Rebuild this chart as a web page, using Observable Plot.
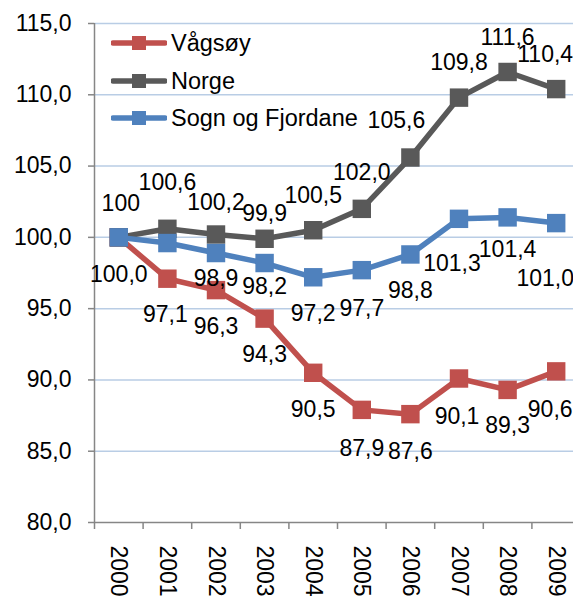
<!DOCTYPE html>
<html>
<head>
<meta charset="utf-8">
<script src="https://cdn.jsdelivr.net/npm/d3@7"></script>
<script src="https://cdn.jsdelivr.net/npm/@observablehq/plot@0.6"></script>
<style>
  html, body { margin: 0; padding: 0; background: white; }
  #wrap { position: relative; width: 573px; height: 599px; overflow: hidden; font-family: "Liberation Sans", Arial, sans-serif; }
  .leg { position: absolute; display: flex; align-items: center; height: 30px; font-size: 23.5px; color: #000; white-space: nowrap; }
  .leg svg { margin-right: 4px; }
</style>
</head>
<body>
<div id="wrap"></div>
<script>
// ---- data ----
const years = [2000, 2001, 2002, 2003, 2004, 2005, 2006, 2007, 2008, 2009];
const seriesNames = ["Vågsøy", "Norge", "Sogn og Fjordane"];
const seriesColors = ["#C0504D", "#595959", "#4F81BD"];
const vagsoy = [100.0, 97.1, 96.3, 94.3, 90.5, 87.9, 87.6, 90.1, 89.3, 90.6];
const norge  = [100.0, 100.6, 100.2, 99.9, 100.5, 102.0, 105.6, 109.8, 111.6, 110.4];
const sogn   = [100.0, 99.6, 98.9, 98.2, 97.2, 97.7, 98.8, 101.3, 101.4, 101.0];
const vagsoyLabels = [null, "97,1", "96,3", "94,3", "90,5", "87,9", "87,6", "90,1", "89,3", "90,6"];
const norgeLabels  = ["100", "100,6", "100,2", "99,9", "100,5", "102,0", "105,6", "109,8", "111,6", "110,4"];
const sognLabels   = ["100,0", null, "98,9", "98,2", "97,2", "97,7", "98,8", "101,3", "101,4", "101,0"];
const yTicks = [80, 85, 90, 95, 100, 105, 110, 115];

// ---- label placement offsets (pixels, annotation layout only) ----
const vagsoyLabelDx = [0, -2, 0, 0, 0, 0, 0, -2, 0, -6];
const vagsoyLabelDy = [37, 36, 37, 36, 37, 39, 37, 38, 36, 38];
const norgeLabelDx  = [2, 0, 0, 0, 0, 0, -14, 0, 0, -11];
const norgeLabelDy  = [-34, -46, -32, -25, -35, -36, -37, -35, -34, -34];
const sognLabelDx   = [0, 0, 0, 0, 0, 0, 0, -7, 0, -11];
const sognLabelDy   = [37, 37, 26, 24, 36, 38, 36, 45, 32, 56];

// ---- build table ----
const allValues = [vagsoy, norge, sogn];
const allLabels = [vagsoyLabels, norgeLabels, sognLabels];
const allDx = [vagsoyLabelDx, norgeLabelDx, sognLabelDx];
const allDy = [vagsoyLabelDy, norgeLabelDy, sognLabelDy];
const rows = [];
seriesNames.forEach((name, s) => {
  years.forEach((yr, i) => rows.push({series: name, year: yr, value: allValues[s][i], label: allLabels[s][i], dx: allDx[s][i], dy: allDy[s][i]}));
});
const fmt = d => d.toFixed(1).replace(".", ",");
const boundaries = years.map(y => y - 0.5).concat([years[years.length - 1] + 0.5]);
const lastYear = years[years.length - 1];

const seriesMarks = [];
seriesNames.forEach((name, s) => {
  const d = rows.filter(r => r.series === name);
  seriesMarks.push(Plot.line(d, {x: "year", y: "value", stroke: seriesColors[s], strokeWidth: 5.5}));
  seriesMarks.push(Plot.dot(d, {x: "year", y: "value", symbol: "square", r: 10.4, fill: seriesColors[s], stroke: "none"}));
});

const labelMarks = rows.filter(r => r.label).map(r =>
  Plot.text([r], {x: "year", y: "value", text: "label", dx: r.dx, dy: r.dy, fill: "#000", fontSize: 23})
);

const chart = Plot.plot({
  width: 573,
  height: 599,
  marginTop: 23,
  marginBottom: 77,
  marginLeft: 94,
  marginRight: 0,
  x: {type: "linear", domain: [years[0] - 0.5, lastYear + 0.5], range: [94, 580]},
  y: {domain: [80, 115]},
  style: {fontFamily: "'Liberation Sans', Arial, sans-serif", fontSize: "23px", background: "white", color: "#000"},
  marks: [
    Plot.ruleY(yTicks.filter(v => v > 80), {stroke: "#B9CDE5", strokeWidth: 1.5}),
    Plot.axisY({ticks: yTicks, tickSize: 6, tickPadding: 17, tickFormat: fmt, stroke: "#868686", strokeWidth: 1.5, fontSize: 23, label: null}),
    Plot.axisX({ticks: years, tickSize: 0, tickPadding: 23, tickRotate: 90, tickFormat: d => String(d), fontSize: 23, label: null}),
    Plot.axisX({ticks: boundaries, tickSize: 7, tickFormat: () => "", stroke: "#868686", strokeWidth: 1.5, label: null}),
    Plot.ruleX([years[0] - 0.5], {stroke: "#868686", strokeWidth: 1.5}),
    Plot.ruleY([80], {stroke: "#868686", strokeWidth: 1.5}),
    ...seriesMarks,
    ...labelMarks
  ]
});

const wrap = document.getElementById("wrap");
wrap.appendChild(chart);

// ---- legend (HTML overlay, top-left inside plot area) ----
const legendTop = [43, 81, 118];
seriesNames.forEach((name, s) => {
  const item = document.createElement("div");
  item.className = "leg";
  item.style.left = "111px";
  item.style.top = (legendTop[s] - 15) + "px";
  item.innerHTML = `<svg width="56" height="20"><line x1="2" y1="10" x2="54" y2="10" stroke="${seriesColors[s]}" stroke-width="5.5" stroke-linecap="round"/><rect x="21" y="3" width="14" height="14" fill="${seriesColors[s]}"/></svg><span>${name}</span>`;
  wrap.appendChild(item);
});
</script>
</body>
</html>
